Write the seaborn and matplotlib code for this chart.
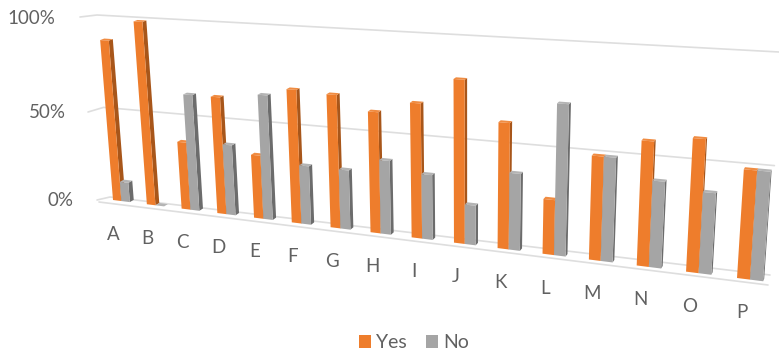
import numpy as np
import pandas as pd
import matplotlib
matplotlib.use("Agg")
import matplotlib.pyplot as plt
from matplotlib.patches import Polygon
from matplotlib.lines import Line2D
from matplotlib.transforms import Transform
import seaborn as sns

categories = list("ABCDEFGHIJKLMNOP")
yes_values = [89, 100, 37, 63, 34, 70, 69, 62, 68, 81, 62, 27, 50, 59, 62, 50]
no_values = [11, 0, 63, 38, 66, 31, 31, 38, 33, 20, 38, 73, 50, 41, 38, 50]
answers = ["Yes", "No"]
value_ticks = [0, 50, 100]
series_colors = {"Yes": "#EE7D2C", "No": "#A5A5A5"}
side_colors = {"Yes": "#A8561A", "No": "#6C6C6C"}
top_colors = {"Yes": "#F08C42", "No": "#B4B4B4"}

W, H = 779, 354
TEXT = "#616161"
GRID = "#DEDEDE"


class Projection(Transform):
    """Planar homography from (u, v) coordinates to image pixels, y measured downward."""
    input_dims = 2
    output_dims = 2
    is_separable = False
    has_inverse = False

    def __init__(self, src, dst):
        super().__init__()
        rows, rhs = [], []
        for (u, v), (x, y) in zip(src, dst):
            rows.append([u, v, 1, 0, 0, 0, -u * x, -v * x])
            rows.append([0, 0, 0, u, v, 1, -u * y, -v * y])
            rhs += [x, y]
        m = np.linalg.solve(np.array(rows, float), np.array(rhs, float))
        self.m = np.append(m, 1).reshape(3, 3)

    def pixels(self, pts):
        pts = np.atleast_2d(pts)
        q = np.c_[pts, np.ones(len(pts))] @ self.m.T
        return q[:, :2] / q[:, 2:]

    def transform_non_affine(self, values):
        p = self.pixels(values)
        return np.c_[p[:, 0], H - p[:, 1]]


def depth_shift(p, k=0.0045, vp=(1000, -300)):
    """Move a pixel point back along the depth direction of the bars."""
    p = np.atleast_2d(p)
    return p + k * (np.array(vp) - p)


# Plane of the bar fronts: category index and percentage onto the image
front = Projection([(-0.25, 0), (14.75, 0), (-0.25, 100), (14.75, 100)],
                   [(113, 200), (737, 278), (98.5, 19.5), (751, 55)])
# Back wall carrying the gridlines, u runs 0..1 along the wall
wall = Projection([(0, 0), (1, 0), (0, 100), (1, 100)],
                  [(110, 197), (770, 275), (97, 15), (779, 52)])

sns.set_theme(style="white")
plt.rcParams["font.family"] = ["Lato", "DejaVu Sans"]

fig = plt.figure(figsize=(W / 100, H / 100), dpi=100, facecolor="white")
ax = fig.add_axes([0, 0, 1, 1])

frame = pd.DataFrame({
    "category": categories * 2,
    "share": yes_values + no_values,
    "answer": ["Yes"] * len(categories) + ["No"] * len(categories),
})
sns.barplot(data=frame, x="category", y="share", hue="answer",
            palette=series_colors, width=0.5, gap=0, saturation=1,
            hue_order=answers, ax=ax, linewidth=0)
ax.set_axis_off()

pixel_to_display = Projection([(0, 0), (1, 0), (0, 1), (1, 1)],
                              [(0, 0), (1, 0), (0, 1), (1, 1)])


def pix_line(points, **kw):
    ax.add_line(Line2D(*zip(*points), transform=pixel_to_display,
                       clip_on=False, color=GRID, lw=1.2, zorder=0.5, **kw))


# Gridlines on the wall with the short ticks on the side wall
side_ends = {0: (97, 200), 50: (88, 112), 100: (80, 17)}
for tick in value_ticks:
    ends = wall.pixels([(0, tick), (1, tick)])
    pix_line([side_ends[tick], tuple(ends[0]), tuple(ends[1])])
pix_line([(99, 202), (768, 285)])

# Front faces come from the barplot; sides and tops are extruded from them
for name, container in zip(answers, ax.containers):
    for bar in container:
        x0, w, h = bar.get_x(), bar.get_width(), bar.get_height()
        order = 10 + 2 * (x0 + 1)
        bar.set_transform(front)
        bar.set_clip_on(False)
        bar.set_zorder(order + 0.2)
        fl, fr, tr, tl = front.pixels([(x0, 0), (x0 + w, 0), (x0 + w, h), (x0, h)])
        bl_, br_, trb, tlb = depth_shift(np.array([fl, fr, tr, tl]))
        ax.add_patch(Polygon([fr, tr, trb, br_], closed=True, transform=pixel_to_display,
                             fc=side_colors[name], lw=0, clip_on=False, zorder=order))
        ax.add_patch(Polygon([tl, tr, trb, tlb], closed=True, transform=pixel_to_display,
                             fc=top_colors[name], lw=0, clip_on=False, zorder=order + 0.1))

# Category labels hang at a fixed offset below each bar pair
for i, label in enumerate(categories):
    (px, py), = front.pixels([(i, 0)])
    ax.text(px - 8.5, py + 33, label, transform=pixel_to_display, ha="center", va="center",
            color=TEXT, fontsize=13.5, clip_on=False)

# Value labels
for tick, (px, py) in zip(value_ticks, [(74, 201), (66, 112), (55, 19)]):
    ax.text(px, py, f"{tick}%", transform=pixel_to_display, ha="right", va="center",
            color=TEXT, fontsize=13.5, clip_on=False)

sns.move_legend(ax, "center", bbox_to_anchor=(414 / W, 1 - 343 / H),
                bbox_transform=fig.transFigure, ncol=2, title=None, frameon=False,
                fontsize=14, handlelength=0.62, handleheight=0.62,
                handletextpad=0.25, columnspacing=1.0, labelcolor=TEXT)

fig.savefig("out.png", dpi=100)
